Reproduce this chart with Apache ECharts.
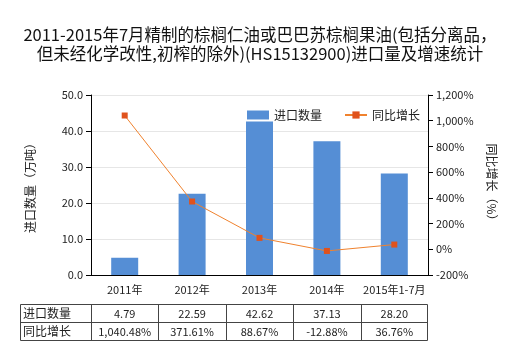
<!DOCTYPE html>
<html><head><meta charset="utf-8">
<script src="https://cdn.jsdelivr.net/npm/echarts@6/dist/echarts.min.js"></script>
<style>html,body{margin:0;padding:0;background:#fff}#c{width:520px;height:350px}</style>
</head><body><div id="c"></div>
<script>
var categories = ['2011年','2012年','2013年','2014年','2015年1-7月'];
var importQty = [4.79, 22.59, 42.62, 37.13, 28.20];
var yoyGrowth = [1040.48, 371.61, 88.67, -12.88, 36.76];
var qtyLabels = ['4.79','22.59','42.62','37.13','28.20'];
var yoyLabels = ['1,040.48%','371.61%','88.67%','-12.88%','36.76%'];
var seriesNames = ['进口数量','同比增长'];
var titleText = '2011-2015年7月精制的棕榈仁油或巴巴苏棕榈果油(包括分离品，\n但未经化学改性,初榨的除外)(HS15132900)进口量及增速统计';

var FONT = '"Noto Sans CJK SC","Microsoft YaHei",sans-serif';
var gl = 91, gr = 428, gt = 95, gb = 275;
var chart = echarts.init(document.getElementById('c'));

function fmtPct(v){ return v.toLocaleString('en-US') + '%'; }

var tbl = [];
var tL = 20, tR = gr - 1, tT = 304, tM = 322, tB = 340;
var colW = (gr - gl) / categories.length;
var lineStyle = {stroke:'#444', lineWidth:1};
tbl.push({type:'rect', shape:{x:tL+0.5,y:tT+0.5,width:tR-tL,height:tB-tT}, style:{fill:'none',stroke:'#444',lineWidth:1}});
tbl.push({type:'line', shape:{x1:tL,y1:tM+0.5,x2:tR,y2:tM+0.5}, style:lineStyle});
for (var i=0;i<categories.length;i++){
  var x = Math.round(gl + colW*i) + 0.5;
  tbl.push({type:'line', shape:{x1:x,y1:tT,x2:x,y2:tB}, style:lineStyle});
  var cx = gl + colW*(i+0.5);
  tbl.push({type:'text', style:{text:qtyLabels[i], x:cx, y:(tT+tM)/2+1, textAlign:'center', textVerticalAlign:'middle', font:'11px '+FONT, fill:'#222'}});
  tbl.push({type:'text', style:{text:yoyLabels[i], x:cx, y:(tM+tB)/2+1, textAlign:'center', textVerticalAlign:'middle', font:'11px '+FONT, fill:'#222'}});
}
tbl.push({type:'text', style:{text:seriesNames[0], x:tL+3, y:(tT+tM)/2, textAlign:'left', textVerticalAlign:'middle', font:'12px '+FONT, fill:'#222'}});
tbl.push({type:'text', style:{text:seriesNames[1], x:tL+3, y:(tM+tB)/2, textAlign:'left', textVerticalAlign:'middle', font:'12px '+FONT, fill:'#222'}});

chart.setOption({
  animation:false,
  backgroundColor:'#fff',
  title:{text:titleText, left:'center', top:20, textStyle:{fontFamily:FONT, fontSize:16.5, fontWeight:'normal', color:'#111', lineHeight:19}},
  legend:{top:104, left:242, itemWidth:22, itemHeight:9, itemGap:22,
    textStyle:{fontFamily:FONT, fontSize:12, color:'#222'},
    data:[{name:seriesNames[0], icon:'rect'},{name:seriesNames[1]}]},
  grid:{left:gl, right:520-gr, top:gt, bottom:350-gb},
  xAxis:{type:'category', data:categories,
    axisLine:{lineStyle:{color:'#000'}},
    axisTick:{alignWithLabel:true, length:5, lineStyle:{color:'#000'}},
    axisLabel:{interval:0, fontFamily:FONT, fontSize:11, color:'#222', margin:9}},
  yAxis:[{type:'value', min:0, max:50, interval:10, name:'进口数量（万吨）', nameLocation:'middle', nameGap:55, nameRotate:90,
      nameTextStyle:{fontFamily:FONT, fontSize:12, color:'#222'},
      axisLine:{show:true, lineStyle:{color:'#000'}}, axisTick:{show:true, length:5, lineStyle:{color:'#000'}},
      axisLabel:{fontFamily:FONT, fontSize:11, color:'#222', formatter:function(v){return v.toFixed(1);}},
      splitLine:{lineStyle:{color:'#e6e6e6'}}},
    {type:'value', min:-200, max:1200, interval:200, name:'同比增长（%）', nameLocation:'middle', nameGap:58, nameRotate:-90,
      nameTextStyle:{fontFamily:FONT, fontSize:12, color:'#222'},
      axisLine:{show:true, lineStyle:{color:'#000'}}, axisTick:{show:true, length:5, lineStyle:{color:'#000'}},
      axisLabel:{fontFamily:FONT, fontSize:11, color:'#222', formatter:fmtPct},
      splitLine:{show:false}}],
  series:[
    {name:seriesNames[0], type:'bar', data:importQty, barWidth:27, itemStyle:{color:'#558ED5'}, z:2},
    {name:seriesNames[1], type:'line', yAxisIndex:1, data:yoyGrowth, symbol:'rect', symbolSize:6,
      lineStyle:{color:'#F0822E', width:1}, itemStyle:{color:'#E0521C'}, z:3}
  ],
  graphic:tbl
});
</script></body></html>
